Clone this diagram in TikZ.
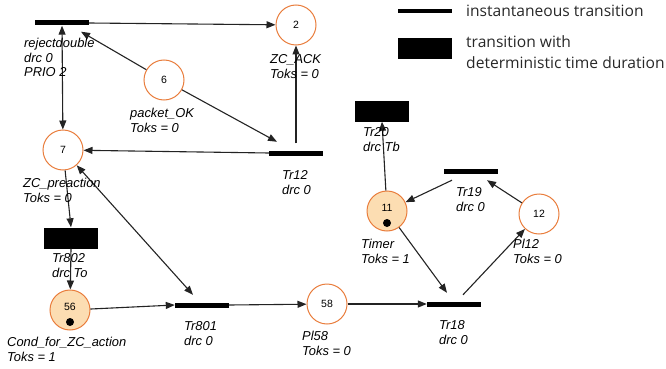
\documentclass[tikz,border=0pt]{standalone}
\usepackage{fontspec}
\setmainfont{Liberation Sans}
\newfontfamily\legendfont{Open Sans}
\usetikzlibrary{arrows.meta}
\definecolor{placeorange}{RGB}{233,125,60}
\definecolor{placefill}{RGB}{252,221,178}
\definecolor{arcgray}{RGB}{35,35,35}
\definecolor{legendtext}{RGB}{40,40,40}
\begin{document}
\begin{tikzpicture}[x=1pt,y=-1pt,
  place/.style={circle,draw=placeorange,line width=1pt,minimum size=40pt,inner sep=0pt,fill=white,font=\fontsize{10.5}{12}\selectfont},
  marked/.style={place,fill=placefill},
  num/.style={inner sep=0pt,font=\fontsize{10.5}{12}\selectfont},
  token/.style={circle,fill=black,minimum size=8pt,inner sep=0pt},
  itrans/.style={rectangle,fill=black,minimum width=54pt,minimum height=5pt,inner sep=0pt},
  dtrans/.style={rectangle,fill=black,minimum width=54pt,minimum height=21pt,inner sep=0pt},
  lbl/.style={anchor=base west,align=left,inner sep=0pt,font=\fontsize{12.9}{14.5}\selectfont\itshape},
  legtxt/.style={anchor=base west,align=left,inner sep=0pt,text=legendtext,font=\legendfont\fontsize{15.6}{21}\selectfont},
  arc/.style={draw=arcgray,line width=1.1pt,-{Triangle[length=9pt,width=7pt]}},
  biarc/.style={draw=arcgray,line width=1.1pt,{Triangle[length=9pt,width=7pt]}-{Triangle[length=9pt,width=7pt]}}
]
\useasboundingbox (0,0) rectangle (666,369);

% transitions
\node[itrans] (rd) at (62,23) {};
\node[itrans] (tr12) at (296,153) {};
\node[dtrans] (tr802) at (71,238) {};
\node[itrans] (tr801) at (202,305) {};
\node[itrans] (tr18) at (454,304) {};
\node[itrans] (tr19) at (471,171) {};
\node[dtrans] (tr20) at (382,111) {};

% places
\node[place] (p2) at (296,25) {2};
\node[place] (p6) at (164,80) {6};
\node[place] (p7) at (63,150) {7};
\node[marked] (p56) at (70,310) {};
\node[num] (n56) at ([yshift=3pt]p56.center) {56};
\node[token] (k56) at ([yshift=-12pt]p56.center) {};
\node[place] (p58) at (327,304) {58};
\node[marked] (p11) at (387,211) {};
\node[num] (n11) at ([yshift=3pt]p11.center) {11};
\node[token] (k11) at ([yshift=-12pt]p11.center) {};
\node[place] (p12) at (539,214) {12};

% arcs
\draw[arc] (rd.east) -- (p2);
\draw[arc] (p6) -- ([xshift=19pt,yshift=-6pt]rd.south);
\draw[arc] (p6) -- ([xshift=-19pt,yshift=8.5pt]tr12.north);
\draw[arc] ([yshift=7pt]tr12.north) -- (p2);
\draw[arc] (tr12.west) -- (p7);
\draw[biarc] (rd.south) -- (p7);
\draw[arc] (p7) -- (tr802.north);
\draw[arc] (tr802.south) -- (p56);
\draw[arc] (p56) -- (tr801.west);
\draw[biarc] (p7) -- ([xshift=-9pt,yshift=7.5pt]tr801.north);
\draw[arc] (tr801.east) -- (p58);
\draw[arc] (p58) -- (tr18.west);
\draw[arc] (p11) -- ([xshift=-7pt,yshift=8.5pt]tr18.north);
\draw[arc] ([xshift=9pt,yshift=6.5pt]tr18.north) -- (p12);
\draw[arc] (p12) -- ([xshift=16pt,yshift=-6.5pt]tr19.south);
\draw[arc] ([xshift=-19pt,yshift=-6.5pt]tr19.south) -- (p11);
\draw[arc] (p11) -- (tr20.south);

% labels (anchored at the baseline of the last line)
\node[lbl] (lrd) at (24,77) {rejectdouble\\drc 0\\PRIO 2};
\node[lbl] (l2) at (270,78) {ZC\_ACK\\Toks = 0};
\node[lbl] (l6) at (130,132) {packet\_OK\\Toks = 0};
\node[lbl] (l7) at (23,202) {ZC\_preaction\\Toks = 0};
\node[lbl] (l12t) at (282,194) {Tr12\\drc 0};
\node[lbl] (l802) at (52,277) {Tr802\\drc To};
\node[lbl] (l56) at (7,361) {Cond\_for\_ZC\_action\\Toks = 1};
\node[lbl] (l801) at (184,345) {Tr801\\drc 0};
\node[lbl] (l58) at (302,355) {Pl58\\Toks = 0};
\node[lbl] (l18) at (439,344) {Tr18\\drc 0};
\node[lbl] (l11) at (361,263) {Timer\\Toks = 1};
\node[lbl] (l12) at (513,263) {Pl12\\Toks = 0};
\node[lbl] (l19) at (456,211) {Tr19\\drc 0};
\node[lbl] (l20) at (363,151) {Tr20\\drc Tb};

% legend
\node[itrans,minimum height=4pt] (legi) at (425,11) {};
\node[dtrans] (legd) at (425,48.5) {};
\node[legtxt] (legit) at (466,17) {instantaneous transition};
\node[legtxt] (legdt) at (466,69) {transition with\\deterministic time duration};
\end{tikzpicture}
\end{document}
